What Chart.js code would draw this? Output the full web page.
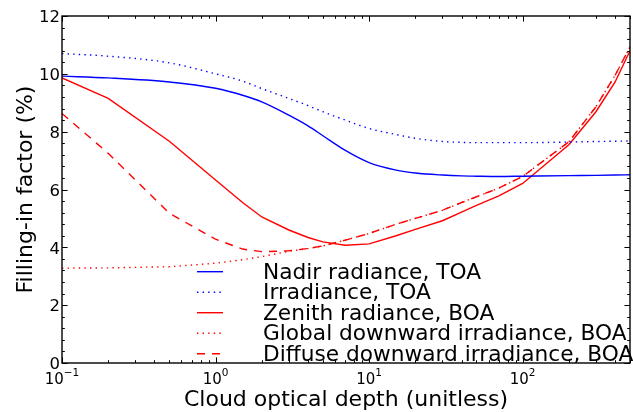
<!DOCTYPE html>
<html>
<head>
<meta charset="utf-8">
<title>Filling-in factor vs cloud optical depth</title>
<script src="https://cdn.jsdelivr.net/npm/chart.js@4.4.1/dist/chart.umd.min.js"></script>
<style>
  html, body { margin: 0; padding: 0; background: #fff; }
  #wrap { width: 633px; height: 412px; position: relative; }
</style>
</head>
<body>
<div id="wrap"><canvas id="fillChart"></canvas></div>
<script>
// Cloud optical depth samples (log x axis)
const opticalDepth = [0.1, 0.2, 0.5, 1, 1.5, 2, 3, 4, 5, 7, 10, 15, 20, 30, 40, 50, 70, 100, 200, 300, 400, 500];

// Filling-in factor (%) for each geometry
const nadirRadianceToa = [9.92, 9.86, 9.72, 9.50, 9.26, 9.03, 8.57, 8.20, 7.86, 7.35, 6.93, 6.67, 6.57, 6.50, 6.47, 6.46, 6.45, 6.46, 6.48, 6.49, 6.50, 6.51];
const irradianceToa = [10.70, 10.61, 10.38, 10.00, 9.75, 9.49, 9.15, 8.90, 8.69, 8.40, 8.11, 7.90, 7.77, 7.66, 7.63, 7.62, 7.62, 7.62, 7.64, 7.66, 7.67, 7.68];
const zenithRadianceBoa = [9.86, 9.15, 7.67, 6.33, 5.55, 5.05, 4.60, 4.34, 4.19, 4.07, 4.12, 4.40, 4.62, 4.92, 5.22, 5.45, 5.78, 6.21, 7.55, 8.69, 9.72, 10.80];
const globalIrradianceBoa = [3.28, 3.29, 3.33, 3.45, 3.57, 3.68, 3.86, 3.96, 4.05, 4.25, 4.48, 4.80, 5.00, 5.28, 5.55, 5.75, 6.05, 6.45, 7.65, 8.86, 9.95, 10.93];
const diffuseIrradianceBoa = [8.63, 7.25, 5.18, 4.28, 3.94, 3.85, 3.88, 3.96, 4.05, 4.25, 4.48, 4.80, 5.00, 5.28, 5.55, 5.75, 6.05, 6.45, 7.65, 8.86, 9.95, 10.93];

const seriesLabels = [
  'Nadir radiance, TOA',
  'Irradiance, TOA',
  'Zenith radiance, BOA',
  'Global downward irradiance, BOA',
  'Diffuse downward irradiance, BOA',
];

// Tick labels
const xMajorTicks = [0.1, 1, 10, 100];
const xTickExponents = ['\u22121', '0', '1', '2'];
const yTickValues = [0, 2, 4, 6, 8, 10, 12];

const xTitle = 'Cloud optical depth (unitless)';
const yTitle = 'Filling-in factor (%)';

const FONT = "'DejaVu Sans', sans-serif";
const DOTTED = [1.4, 4.2];
const DASHED = [8, 7];

function makeSeries(label, values, color, dash, smooth) {
  return {
    label,
    data: values.map((v, i) => ({ x: opticalDepth[i], y: v })),
    borderColor: color,
    borderWidth: 1.4,
    borderDash: dash,
    borderCapStyle: 'butt',
    pointRadius: 0,
    fill: false,
    tension: 0,
    cubicInterpolationMode: smooth ? 'monotone' : 'default',
  };
}

const datasets = [
  makeSeries(seriesLabels[0], nadirRadianceToa, '#0000ff', [], true),
  makeSeries(seriesLabels[1], irradianceToa, '#0000ff', DOTTED, true),
  makeSeries(seriesLabels[2], zenithRadianceBoa, '#ff0000', [], false),
  makeSeries(seriesLabels[3], globalIrradianceBoa, '#ff0000', DOTTED, false),
  makeSeries(seriesLabels[4], diffuseIrradianceBoa, '#ff0000', DASHED, false),
];

// Frame, inward ticks on all sides, tick labels, titles and legend
const axisDecor = {
  id: 'axisDecor',
  afterDatasetsDraw(chart) {
    const { ctx, chartArea: a, scales } = chart;
    const xs = scales.x, ys = scales.y;
    const crisp = p => Math.round(p) + 0.5;
    ctx.save();
    ctx.strokeStyle = '#000';
    ctx.fillStyle = '#000';

    // x ticks: decades plus 2..9 minors
    ctx.lineWidth = 1;
    ctx.beginPath();
    for (let d = -1; d <= 2; d++) {
      for (let m = 1; m <= 9; m++) {
        const v = m * Math.pow(10, d);
        if (v > xs.max) break;
        const len = m === 1 ? 5.6 : 2.8;
        const px = crisp(xs.getPixelForValue(v));
        ctx.moveTo(px, a.bottom); ctx.lineTo(px, a.bottom - len);
        ctx.moveTo(px, a.top); ctx.lineTo(px, a.top + len);
      }
    }
    // y ticks: every 0.4, labelled every 2
    for (let i = 0; i <= 30; i++) {
      const len = i % 5 === 0 ? 5.6 : 2.8;
      const py = crisp(ys.getPixelForValue(i * 0.4));
      ctx.moveTo(a.left, py); ctx.lineTo(a.left + len, py);
      ctx.moveTo(a.right, py); ctx.lineTo(a.right - len, py);
    }
    ctx.stroke();

    ctx.lineWidth = 1.4;
    ctx.strokeRect(a.left, a.top, a.right - a.left, a.bottom - a.top);

    // y tick labels
    ctx.font = '16.5px ' + FONT;
    ctx.textAlign = 'right';
    ctx.textBaseline = 'middle';
    yTickValues.forEach(v => {
      ctx.fillText(String(v), a.left - 2, ys.getPixelForValue(v) + 2);
    });

    // x tick labels as 10^n
    ctx.textAlign = 'left';
    ctx.textBaseline = 'alphabetic';
    xMajorTicks.forEach((v, i) => {
      ctx.font = '15px ' + FONT;
      const wBase = ctx.measureText('10').width;
      ctx.font = '10.5px ' + FONT;
      const wExp = ctx.measureText(xTickExponents[i]).width;
      const start = xs.getPixelForValue(v) - (wBase + wExp) / 2;
      ctx.font = '15px ' + FONT;
      ctx.fillText('10', start, 383.5);
      ctx.font = '10.5px ' + FONT;
      ctx.fillText(xTickExponents[i], start + wBase, 376);
    });

    // axis titles
    ctx.font = '22px ' + FONT;
    ctx.textAlign = 'center';
    ctx.fillText(xTitle, (a.left + a.right) / 2, 406);
    ctx.save();
    ctx.translate(32, (a.top + a.bottom) / 2);
    ctx.rotate(-Math.PI / 2);
    ctx.fillText(yTitle, 0, 0);
    ctx.restore();

    // legend, no frame
    ctx.font = '21.7px ' + FONT;
    ctx.textAlign = 'left';
    chart.data.datasets.forEach((ds, i) => {
      const rowY = 271.7 + i * 20.5;
      ctx.strokeStyle = ds.borderColor;
      ctx.lineWidth = ds.borderWidth;
      ctx.lineCap = 'butt';
      ctx.setLineDash(ds.borderDash);
      ctx.beginPath();
      ctx.moveTo(197, rowY);
      ctx.lineTo(223, rowY);
      ctx.stroke();
      ctx.setLineDash([]);
      ctx.fillText(ds.label, 263, rowY + 7);
    });
    ctx.restore();
  },
};

new Chart(document.getElementById('fillChart'), {
  type: 'line',
  data: { datasets },
  options: {
    responsive: true,
    maintainAspectRatio: false,
    animation: false,
    layout: { padding: { top: 16, right: 3, bottom: 0, left: 0 } },
    plugins: {
      legend: { display: false },
      tooltip: { enabled: false },
    },
    scales: {
      x: {
        type: 'logarithmic',
        min: 0.1,
        max: 500,
        ticks: { display: false },
        grid: { display: false },
        border: { display: false },
        afterFit: s => { s.height = 49; },
      },
      y: {
        type: 'linear',
        min: 0,
        max: 12,
        ticks: { display: false },
        grid: { display: false },
        border: { display: false },
        afterFit: s => { s.width = 62; },
      },
    },
  },
  plugins: [axisDecor],
});
</script>
</body>
</html>
